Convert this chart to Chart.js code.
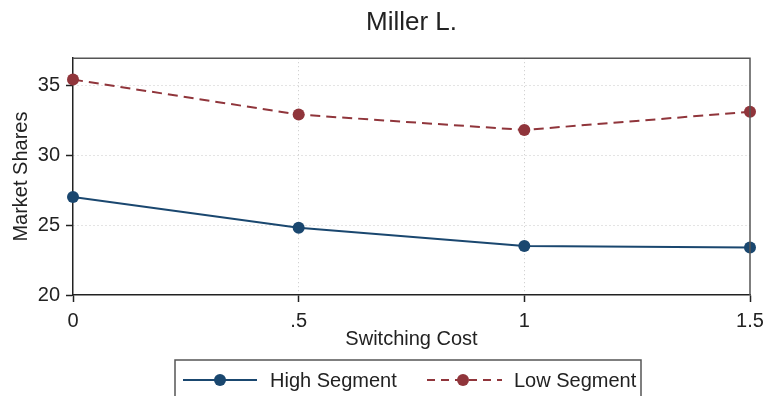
<!DOCTYPE html>
<html>
<head>
<meta charset="utf-8">
<script src="https://cdn.jsdelivr.net/npm/chart.js@4"></script>
<style>
    html, body { margin: 0; padding: 0; background: #fff; }
    #wrap { width: 767px; height: 396px; }
</style>
</head>
<body>
<div id="wrap"><canvas id="chart"></canvas></div>
<script>
const switchingCost = [0, 0.5, 1, 1.5];
const highSegment = [27.0, 24.8, 23.5, 23.4];
const lowSegment = [35.4, 32.9, 31.8, 33.1];
const seriesNames = ['High Segment', 'Low Segment'];
const xTicks = [0, 0.5, 1, 1.5];
const xTickLabels = ['0', '.5', '1', '1.5'];
const yTicks = [20, 25, 30, 35];

const palette = {
    navy: '#1a476f',
    maroon: '#90353b',
    ink: '#222222',
    frame: '#555555',
    grid: '#c8c8c8'
};

const font = 'Liberation Sans, Arial, sans-serif';

const points = (values) => switchingCost.map((x, i) => ({ x, y: values[i] }));

// frame around the plot and the boxed legend under it
const stataLook = {
    id: 'stataLook',
    afterDraw(chart) {
        const { ctx, chartArea: a } = chart;
        ctx.save();
        ctx.strokeStyle = palette.frame;
        ctx.lineWidth = 1.5;
        ctx.beginPath();
        ctx.moveTo(a.left, a.top);
        ctx.lineTo(a.right, a.top);
        ctx.lineTo(a.right, a.bottom);
        ctx.stroke();

        ctx.strokeRect(175, 360, 466, 40);

        const items = [
            { x0: 183, x1: 257, dot: 220, text: 270, color: palette.navy, dash: [] },
            { x0: 427, x1: 502, dot: 463, text: 514, color: palette.maroon, dash: [8, 6] }
        ];
        const y = 380;
        items.forEach((item, i) => {
            ctx.strokeStyle = item.color;
            ctx.lineWidth = 2;
            ctx.setLineDash(item.dash);
            ctx.beginPath();
            ctx.moveTo(item.x0, y);
            ctx.lineTo(item.x1, y);
            ctx.stroke();
            ctx.setLineDash([]);
            ctx.fillStyle = item.color;
            ctx.beginPath();
            ctx.arc(item.dot, y, 6, 0, Math.PI * 2);
            ctx.fill();
            ctx.fillStyle = palette.ink;
            ctx.font = '20px ' + font;
            ctx.textBaseline = 'middle';
            ctx.fillText(seriesNames[i], item.text, y + 1);
        });
        ctx.restore();
    }
};

new Chart(document.getElementById('chart'), {
    type: 'line',
    data: {
        datasets: [{
            label: seriesNames[0],
            data: points(highSegment),
            borderColor: palette.navy,
            backgroundColor: palette.navy,
            borderWidth: 2,
            pointRadius: 6,
            pointBorderWidth: 0,
            tension: 0,
            clip: false
        }, {
            label: seriesNames[1],
            data: points(lowSegment),
            borderColor: palette.maroon,
            backgroundColor: palette.maroon,
            borderWidth: 2,
            borderDash: [10, 6],
            pointRadius: 6,
            pointBorderWidth: 0,
            tension: 0,
            clip: false
        }]
    },
    options: {
        responsive: true,
        maintainAspectRatio: false,
        animation: false,
        layout: {
            padding: { left: 0, right: 17, top: 0, bottom: 40 }
        },
        plugins: {
            legend: { display: false },
            tooltip: { enabled: false },
            title: {
                display: true,
                fullSize: false,
                text: 'Miller L.',
                color: palette.ink,
                font: { family: font, size: 26, weight: 'normal', lineHeight: 1.2 },
                padding: { top: 7, bottom: 20 }
            }
        },
        scales: {
            x: {
                type: 'linear',
                min: 0,
                max: 1.5,
                afterBuildTicks: (scale) => {
                    scale.ticks = xTicks.map((value) => ({ value }));
                },
                afterFit: (scale) => {
                    scale.height = 61;
                    scale.paddingLeft = 0;
                    scale.paddingRight = 0;
                },
                ticks: {
                    color: palette.ink,
                    padding: 7,
                    maxRotation: 0,
                    font: { family: font, size: 20 },
                    callback: (value) => xTickLabels[xTicks.indexOf(value)]
                },
                grid: {
                    color: (ctx) => (ctx.tick && (ctx.tick.value === 0 || ctx.tick.value === 1.5)) ? 'rgba(0,0,0,0)' : palette.grid,
                    lineWidth: 1,
                    tickLength: 7,
                    tickColor: palette.ink,
                    tickWidth: 1.5
                },
                border: { color: palette.ink, width: 1.5, dash: [1, 3] },
                title: {
                    display: true,
                    text: 'Switching Cost',
                    color: palette.ink,
                    font: { family: font, size: 20, lineHeight: 1.2 },
                    padding: { top: 0, bottom: 5 }
                }
            },
            y: {
                min: 20,
                max: 36.93,
                afterBuildTicks: (scale) => {
                    scale.ticks = yTicks.map((value) => ({ value }));
                },
                afterFit: (scale) => {
                    scale.width = 73;
                },
                ticks: {
                    color: palette.ink,
                    padding: 6,
                    font: { family: font, size: 20 }
                },
                grid: {
                    color: (ctx) => (ctx.tick && ctx.tick.value === 20) ? 'rgba(0,0,0,0)' : palette.grid,
                    lineWidth: 1,
                    tickLength: 7,
                    tickColor: palette.ink,
                    tickWidth: 1.5
                },
                border: { color: palette.ink, width: 1.5, dash: [1, 3] },
                title: {
                    display: true,
                    text: 'Market Shares',
                    color: palette.ink,
                    font: { family: font, size: 20, lineHeight: 1.2 },
                    padding: { top: 9, bottom: 0 }
                }
            }
        }
    },
    plugins: [stataLook]
});
</script>
</body>
</html>
